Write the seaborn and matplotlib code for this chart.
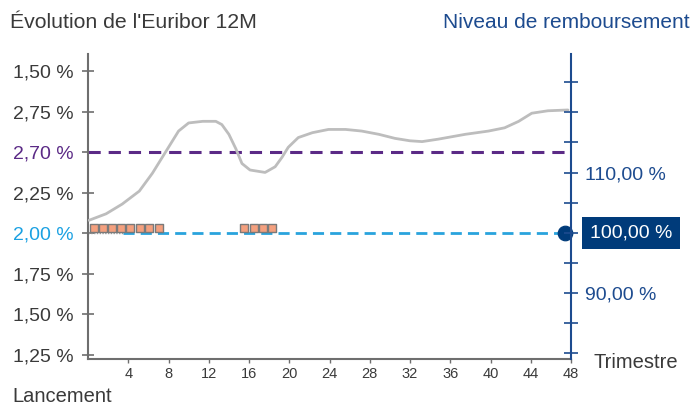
import matplotlib.pyplot as plt
import numpy as np
import pandas as pd
import seaborn as sns

# Euribor 12M curve (x = trimestre, y = position on left scale)
trimestres = [0.1, 1.8, 3.4, 5.1, 6.4, 7.4, 8.2, 9.0, 10.0, 11.4, 12.7, 13.3, 14.0,
              14.7, 15.3, 16.1, 16.6, 17.6, 18.6, 19.3, 19.9, 20.9, 22.3, 23.9, 25.6,
              27.2, 28.9, 30.5, 32.0, 33.2, 34.8, 37.5, 39.8, 41.4, 42.8, 44.1, 45.7, 47.7]
euribor = [2.08, 2.12, 2.18, 2.26, 2.37, 2.47, 2.55, 2.63, 2.68, 2.69, 2.69, 2.67, 2.61,
           2.52, 2.43, 2.39, 2.385, 2.375, 2.41, 2.47, 2.53, 2.59, 2.62, 2.64, 2.64,
           2.63, 2.61, 2.585, 2.57, 2.565, 2.58, 2.61, 2.63, 2.65, 2.69, 2.74, 2.755, 2.76]

# Horizontal levels
seuil_haut = 2.50      # line labelled "2,70 %"
seuil_bas = 2.00       # line labelled "2,00 %"
debut_pointille = 3.5  # blue dashes start here

# Coupon squares
coupons_x = [0.6, 1.5, 2.4, 3.3, 4.2, 5.2, 6.1, 7.1, 15.5, 16.5, 17.4, 18.3]
coupons_y = 2.03

# Final point (remboursement)
fin_x = 47.4

# Left axis
gauche_ticks = [1.25, 1.50, 1.75, 2.00, 2.25, 2.50, 2.75, 3.00]
gauche_labels = ["1,25 %", "1,50 %", "1,75 %", "2,00 %", "2,25 %", "2,70 %", "2,75 %", "1,50 %"]

# Right axis
droite_ticks = [80, 85, 90, 95, 100, 105, 110, 115, 120, 125]
droite_labels = ["", "", "90,00 %", "", "", "", "110,00 %", "", "", ""]
droite_box = 100
droite_box_label = "100,00 %"

x_ticks = list(range(4, 49, 4))

GRIS = "#3a3a3a"
VIOLET = "#5b2a86"
BLEU_CLAIR = "#1ba1e2"
BLEU = "#1d4b8f"
BLEU_FONCE = "#003b7a"


def main():
    sns.set_style("white")
    plt.rcParams["font.family"] = ["Liberation Sans", "DejaVu Sans"]

    W, H = 696, 404
    fig = plt.figure(figsize=(W / 100, H / 100), dpi=100)
    ax = fig.add_axes([88 / W, 1 - 359 / H, (571 - 88) / W, (359 - 54) / H])

    df = pd.DataFrame({"t": trimestres, "v": euribor})
    sns.lineplot(data=df, x="t", y="v", ax=ax, color="#bdbdbd", linewidth=2, zorder=3)
    ax.lines[-1].set_solid_joinstyle("round")

    sns.lineplot(x=[0, 48], y=[seuil_haut, seuil_haut], ax=ax, color=VIOLET,
                 linewidth=2.2, zorder=2)
    ax.lines[-1].set_dashes([4, 2.6])
    sns.lineplot(x=[0, debut_pointille], y=[seuil_bas, seuil_bas], ax=ax,
                 color="#9a9a9a", linewidth=1, zorder=2)
    ax.lines[-1].set_dashes([1, 1])
    sns.lineplot(x=[debut_pointille, 48], y=[seuil_bas, seuil_bas], ax=ax,
                 color="#29a3dd", linewidth=2, zorder=2)
    ax.lines[-1].set_dashes([4, 2.2])

    sns.scatterplot(x=coupons_x, y=[coupons_y] * len(coupons_x), ax=ax, marker="s",
                    s=26, color="#f4a07e", edgecolor="#7a7a7a", linewidth=1, zorder=4)
    sns.scatterplot(x=[fin_x], y=[seuil_bas], ax=ax, s=110, color=BLEU_FONCE,
                    edgecolor=BLEU_FONCE, zorder=5, clip_on=False)

    ax.set_xlim(0, 48)
    ax.set_ylim(1.225, 3.105)
    ax.set_xlabel("")
    ax.set_ylabel("")

    ax.set_xticks(x_ticks)
    ax.set_xticklabels([str(t) for t in x_ticks])
    ax.set_yticks(gauche_ticks)
    ax.set_yticklabels(gauche_labels)
    ax.tick_params(axis="y", direction="inout", length=9, width=1.2, color="#6e6e6e",
                   labelsize=14, labelcolor=GRIS, pad=6, left=True)
    ax.tick_params(axis="x", direction="out", length=3, width=1, color="#6e6e6e",
                   labelsize=10.5, labelcolor=GRIS, pad=3, bottom=True)
    for lab in ax.get_yticklabels():
        if lab.get_text() == "2,70 %":
            lab.set_color(VIOLET)
        elif lab.get_text() == "2,00 %":
            lab.set_color(BLEU_CLAIR)

    for side in ["top", "right"]:
        ax.spines[side].set_visible(False)
    for side in ["left", "bottom"]:
        ax.spines[side].set_color("#6e6e6e")
        ax.spines[side].set_linewidth(1.5)

    ax2 = ax.twinx()
    ax2.set_ylim(79, 129.7)
    ax2.set_yticks(droite_ticks)
    ax2.set_yticklabels(droite_labels)
    ax2.tick_params(axis="y", direction="inout", length=10, width=1.2, color=BLEU,
                    labelsize=14, labelcolor=BLEU, pad=5, right=True)
    for side in ["top", "left", "bottom"]:
        ax2.spines[side].set_visible(False)
    ax2.spines["right"].set_color(BLEU)
    ax2.spines["right"].set_linewidth(1.5)
    ax2.annotate(droite_box_label, xy=(1, droite_box), xycoords=("axes fraction", "data"),
                 xytext=(13.5, 0), textcoords="offset points", ha="left", va="center",
                 fontsize=14, color="white",
                 bbox=dict(boxstyle="square,pad=0.38", fc=BLEU_FONCE, ec="none"))

    fig.text(10 / W, 1 - 22 / H, "Évolution de l'Euribor 12M", fontsize=15.3,
             color=GRIS, ha="left", va="center")
    fig.text(690 / W, 1 - 22 / H, "Niveau de remboursement", fontsize=15,
             color=BLEU, ha="right", va="center")
    fig.text(593 / W, 1 - 362 / H, "Trimestre", fontsize=14.5, color=GRIS,
             ha="left", va="center")
    fig.text(12 / W, 1 - 396 / H, "Lancement", fontsize=14.5, color=GRIS,
             ha="left", va="center")

    fig.savefig("out.png", dpi=100)


if __name__ == "__main__":
    main()
